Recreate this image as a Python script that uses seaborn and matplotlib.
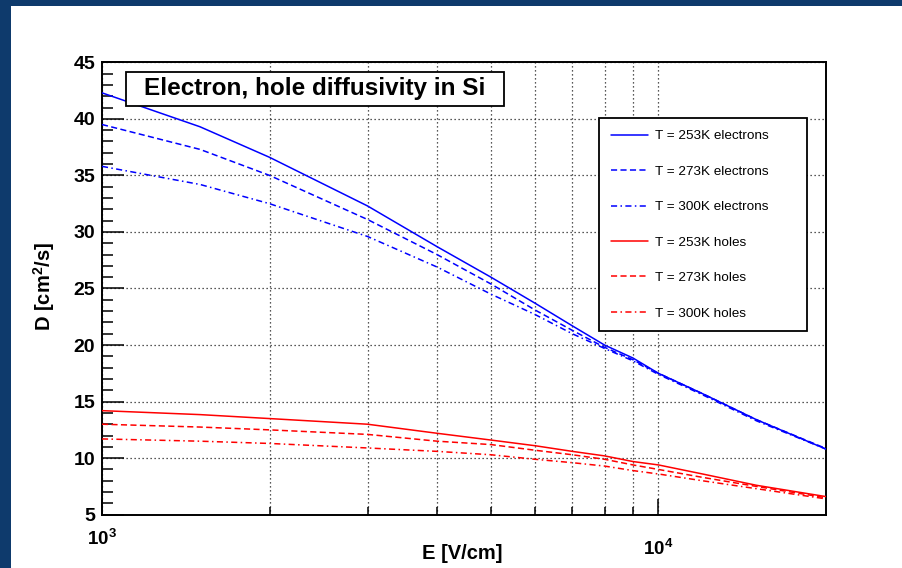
import numpy as np
import pandas as pd
import matplotlib
matplotlib.use("Agg")
import matplotlib.pyplot as plt
import seaborn as sns
from matplotlib.ticker import MultipleLocator, FixedLocator, NullFormatter
from matplotlib.patches import Rectangle

# ---- data ----
E_field = [1000, 1500, 2000, 3000, 4000, 5000, 6000, 7000, 8000, 9000, 10000, 12000, 15000, 20000]
e_253K = [42.3, 39.3, 36.6, 32.3, 28.7, 26.0, 23.7, 21.7, 20.0, 18.85, 17.5, 15.7, 13.4, 10.8]
e_273K = [39.5, 37.3, 35.0, 31.1, 28.0, 25.4, 23.1, 21.3, 19.8, 18.7, 17.5, 15.7, 13.4, 10.85]
e_300K = [35.8, 34.2, 32.5, 29.6, 26.9, 24.5, 22.7, 21.0, 19.7, 18.6, 17.4, 15.6, 13.3, 10.8]
h_253K = [14.2, 13.85, 13.5, 13.0, 12.2, 11.6, 11.1, 10.6, 10.2, 9.7, 9.4, 8.6, 7.6, 6.6]
h_273K = [13.0, 12.75, 12.5, 12.1, 11.5, 11.2, 10.7, 10.3, 9.9, 9.4, 9.0, 8.3, 7.5, 6.5]
h_300K = [11.7, 11.5, 11.3, 10.9, 10.6, 10.3, 9.9, 9.6, 9.3, 8.9, 8.6, 8.0, 7.3, 6.4]

labels = ["T = 253K electrons", "T = 273K electrons", "T = 300K electrons",
          "T = 253K holes", "T = 273K holes", "T = 300K holes"]
series = [e_253K, e_273K, e_300K, h_253K, h_273K, h_300K]
x_major_ticks = [1e3, 1e4]
x_major_labels = [r'$\mathbf{10^{3}}$', r'$\mathbf{10^{4}}$']
x_minor_ticks = [2e3, 3e3, 4e3, 5e3, 6e3, 7e3, 8e3, 9e3]
title_text = "Electron, hole diffusivity in Si"
x_label = "E [V/cm]"
y_label = r"D [cm$^{\mathbf{2}}$/s]"

sns.set_theme(style="white")
plt.rcParams['font.family'] = ['Liberation Sans', 'DejaVu Sans']
plt.rcParams['mathtext.fontset'] = 'custom'
plt.rcParams['mathtext.rm'] = 'Liberation Sans'
plt.rcParams['mathtext.bf'] = 'Liberation Sans:bold'
plt.rcParams['text.color'] = 'black'
plt.rcParams['axes.labelcolor'] = 'black'
plt.rcParams['xtick.color'] = 'black'
plt.rcParams['ytick.color'] = 'black'

W, H = 902, 568
fig = plt.figure(figsize=(W / 100, H / 100), dpi=100)
fig.patch.set_facecolor('white')
navy = '#0E3A6C'
fig.patches.append(Rectangle((0, 1 - 6 / H), 1, 6 / H, transform=fig.transFigure,
                             facecolor=navy, edgecolor='none', zorder=0))
fig.patches.append(Rectangle((0, 0), 11 / W, 1, transform=fig.transFigure,
                             facecolor=navy, edgecolor='none', zorder=0))

left, right, top, bottom = 102, 826, 62.3, 514.7
ax = fig.add_axes([left / W, 1 - bottom / H, (right - left) / W, (bottom - top) / H])
aw, ah = right - left, bottom - top

colors = ['#0000FF'] * 3 + ['#FF0000'] * 3
styles = ['-', (0, (4, 2.2)), (0, (4, 2.2, 1, 2.2))] * 2

for lab, vals, c, ls in zip(labels, series, colors, styles):
    sns.lineplot(x=E_field, y=vals, ax=ax, color=c, linestyle=ls, linewidth=1.1,
                 label=lab, zorder=3)

ax.set_xscale('log')
ax.set_xlim(1000, 20000)
ax.set_ylim(5, 45)

ax.xaxis.set_major_locator(FixedLocator(x_major_ticks))
ax.xaxis.set_minor_locator(FixedLocator(x_minor_ticks))
ax.xaxis.set_major_formatter(NullFormatter())
ax.xaxis.set_minor_formatter(NullFormatter())
ax.yaxis.set_major_locator(MultipleLocator(5))
ax.yaxis.set_minor_locator(MultipleLocator(1))

ax.tick_params(axis='y', which='major', direction='in', length=15.8, width=1.1,
               labelsize=14, pad=5, left=True, right=False)
ax.tick_params(axis='y', which='minor', direction='in', length=7.9, width=1.1, left=True, right=False)
ax.tick_params(axis='x', which='major', direction='in', length=11.3, width=1.1,
               bottom=True, top=False)
ax.tick_params(axis='x', which='minor', direction='in', length=5.6, width=1.1, bottom=True, top=False)
for t in ax.get_yticklabels():
    t.set_fontweight('bold')

# x tick labels (ROOT shifts the first one upward)
x_offsets_px = [-14, -24]
for xv, lab, off in zip(x_major_ticks, x_major_labels, x_offsets_px):
    ax.annotate(lab, xy=(xv, 0), xycoords=('data', 'axes fraction'),
                xytext=(0, off * 0.72), textcoords='offset points',
                ha='center', va='top', fontsize=13.5, annotation_clip=False)

ax.grid(True, which='major', axis='y', color='#222222', linestyle=(0, (1, 2.2)), linewidth=0.9)
ax.grid(True, which='both', axis='x', color='#222222', linestyle=(0, (1, 2.2)), linewidth=0.9)

for s in ax.spines.values():
    s.set_color('black')
    s.set_linewidth(1.4)
    s.set_visible(True)

ax.set_xlabel(x_label, fontsize=14.5, fontweight='bold')
ax.set_ylabel(y_label, fontsize=14.5, fontweight='bold')
ax.xaxis.set_label_coords(0.497, -0.064)
ax.yaxis.set_label_coords(-0.062, 0.505)

# legend
lx0 = (599 - left) / aw
lx1 = (807.5 - left) / aw
ly1 = 1 - (118.3 - top) / ah
leg = ax.legend(loc='upper left', bbox_to_anchor=(lx0, ly1 - 0.5, lx1 - lx0, 0.5),
                mode='expand', borderaxespad=0, fontsize=9.7, frameon=True, fancybox=False,
                edgecolor='black', framealpha=1, handlelength=2.8, handletextpad=0.5,
                labelspacing=1.71, borderpad=0.86)
leg.get_frame().set_linewidth(1.3)
leg.set_zorder(5)

# title box
bx0, bx1, by0, by1 = 125.7, 504.3, 72.3, 105.7
ax.add_patch(Rectangle(((bx0 - left) / aw, 1 - (by1 - top) / ah), (bx1 - bx0) / aw, (by1 - by0) / ah,
                       transform=ax.transAxes, facecolor='white', edgecolor='black',
                       linewidth=1.3, zorder=6, clip_on=False))
ax.text(((bx0 + bx1) / 2 - left) / aw, 1 - ((by0 + by1) / 2 - top) / ah, title_text,
        transform=ax.transAxes, ha='center', va='center', fontsize=17.5, fontweight='bold',
        zorder=7)

fig.savefig('out.png', dpi=100)
